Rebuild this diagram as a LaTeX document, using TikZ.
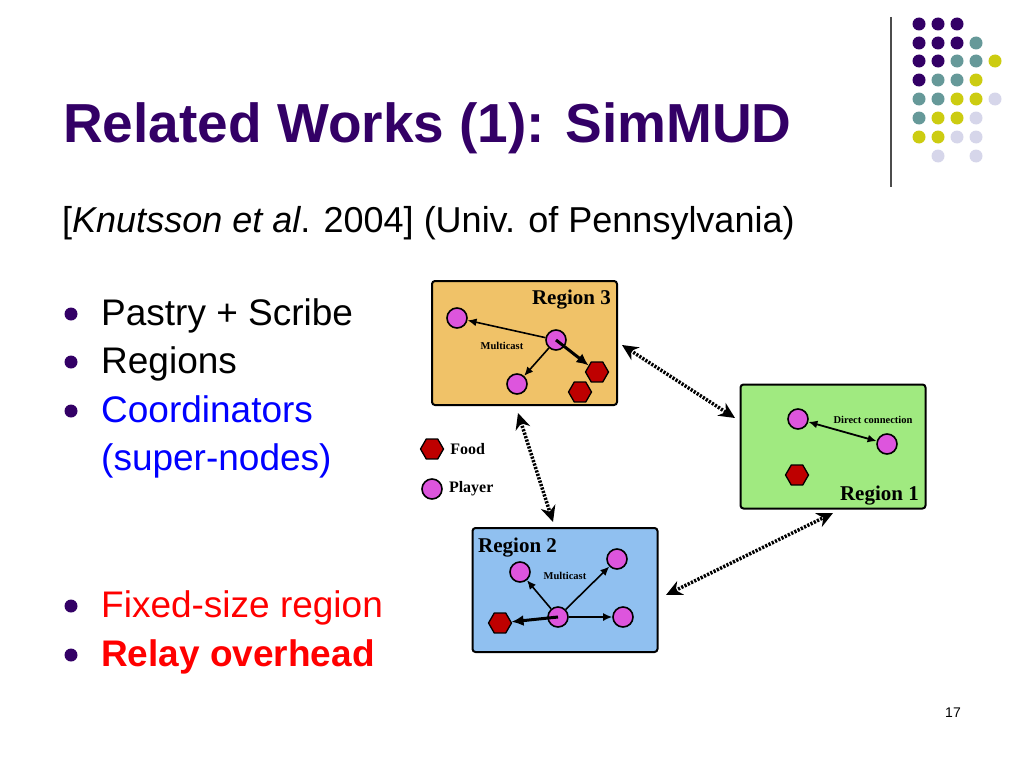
\documentclass[tikz,border=0pt]{standalone}
\usepackage{fontspec}
\setmainfont{Liberation Sans}
\newfontfamily\serifb{Liberation Serif}
\usetikzlibrary{positioning}
\usetikzlibrary{arrows.meta,shapes.geometric}

\definecolor{titlepurple}{RGB}{51,0,102}
\definecolor{dotteal}{RGB}{102,153,153}
\definecolor{dotyellow}{RGB}{204,204,17}
\definecolor{dotlilac}{RGB}{214,214,234}
\definecolor{regionorange}{RGB}{240,194,104}
\definecolor{regiongreen}{RGB}{160,234,128}
\definecolor{regionblue}{RGB}{144,192,240}
\definecolor{playerpink}{RGB}{221,85,221}
\definecolor{foodred}{RGB}{190,0,0}
\definecolor{textblue}{RGB}{0,0,255}
\definecolor{textred}{RGB}{255,0,0}

\begin{document}
\begin{tikzpicture}[x=1pt,y=-1pt,
  txt/.style={anchor=base west,inner sep=0pt},
  bodytext/.style={txt,font=\fontsize{37}{40}\selectfont},
  bulletdot/.style={circle,fill=titlepurple,inner sep=0pt,minimum size=13pt},
  region/.style={draw,line width=2pt,rounded corners=3pt,minimum width=185pt,minimum height=124pt},
  regionlabel/.style={inner sep=0pt,font=\serifb\bfseries\fontsize{21}{21}\selectfont},
  smalllabel/.style={inner sep=0pt,font=\serifb\bfseries\fontsize{10.5}{10.5}\selectfont},
  player/.style={circle,draw,line width=1.6pt,fill=playerpink,minimum size=20pt,inner sep=0pt},
  food/.style={regular polygon,regular polygon sides=6,draw,line width=1.3pt,fill=foodred,minimum size=23pt,inner sep=0pt},
  move/.style={-{Latex[length=9pt,width=8pt]},line width=1.6pt},
  bigmove/.style={-{Latex[length=12pt,width=11pt]},line width=3pt},
  link/.style={line width=3.5pt,dash pattern=on 2.2pt off 1.4pt,{Stealth[length=16pt,width=15pt]}-{Stealth[length=16pt,width=15pt]}}]
 \useasboundingbox (0,0) rectangle (1024,768);

 % corner decoration
 \draw[gray!60!black,line width=1.2pt] (891,17) -- (891,187);
 \fill[titlepurple] (919,24) circle (6.5); \fill[titlepurple] (938,24) circle (6.5); \fill[titlepurple] (957,24) circle (6.5);
 \fill[titlepurple] (919,43) circle (6.5); \fill[titlepurple] (938,43) circle (6.5); \fill[titlepurple] (957,43) circle (6.5); \fill[dotteal] (976,43) circle (6.5);
 \fill[titlepurple] (919,61) circle (6.5); \fill[titlepurple] (938,61) circle (6.5); \fill[dotteal] (957,61) circle (6.5); \fill[dotteal] (976,61) circle (6.5); \fill[dotyellow] (995,61) circle (6.5);
 \fill[titlepurple] (919,80) circle (6.5); \fill[dotteal] (938,80) circle (6.5); \fill[dotteal] (957,80) circle (6.5); \fill[dotyellow] (976,80) circle (6.5);
 \fill[dotteal] (919,99) circle (6.5); \fill[dotteal] (938,99) circle (6.5); \fill[dotyellow] (957,99) circle (6.5); \fill[dotyellow] (976,99) circle (6.5); \fill[dotlilac] (995,99) circle (6.5);
 \fill[dotteal] (919,118) circle (6.5); \fill[dotyellow] (938,118) circle (6.5); \fill[dotyellow] (957,118) circle (6.5); \fill[dotlilac] (976,118) circle (6.5);
 \fill[dotyellow] (919,137) circle (6.5); \fill[dotyellow] (938,137) circle (6.5); \fill[dotlilac] (957,137) circle (6.5); \fill[dotlilac] (976,137) circle (6.5);
 \fill[dotlilac] (938,156) circle (6.5); \fill[dotlilac] (976,156) circle (6.5);

 % title and text
 \node[txt,text=titlepurple,font=\bfseries\fontsize{55}{60}\selectfont] (title) at (63,142) {Related Works (1): SimMUD};
 \node[txt,font=\fontsize{36}{40}\selectfont] (cite) at (62,232) {[\textit{Knutsson et al}. 2004] (Univ. of Pennsylvania)};
 \node[bulletdot] (b1) at (71,314) {};
 \node[bodytext] (t1) at (101,325) {Pastry + Scribe};
 \node[bulletdot] (b2) at (71,362) {};
 \node[bodytext] (t2) at (101,373) {Regions};
 \node[bulletdot] (b3) at (71,411) {};
 \node[bodytext,text=textblue] (t3) at (101,422) {Coordinators};
 \node[bodytext,text=textblue] (t4) at (101,470) {(super-nodes)};
 \node[bulletdot] (b4) at (71,606) {};
 \node[bodytext,text=textred] (t5) at (101,617) {Fixed-size region};
 \node[bulletdot] (b5) at (71,655) {};
 \node[bodytext,text=textred,font=\bfseries\fontsize{37}{40}\selectfont] (t6) at (101,666) {Relay overhead};
 \node[font=\fontsize{14}{14}\selectfont] (pagenum) at (953,713) {17};

 % regions
 \node[region,fill=regionorange] (r3) at (524.5,343) {};
 \node[region,fill=regiongreen] (r1) at (833,446.5) {};
 \node[region,fill=regionblue] (r2) at (565,590) {};
 \node[regionlabel,anchor=base east] (r3lbl) at (611,304) {Region 3};
 \node[regionlabel,anchor=base east] (r1lbl) at (919,500) {Region 1};
 \node[regionlabel,anchor=base west] (r2lbl) at (478,552) {Region 2};

 % region 3
 \node[player] (p31) at (457,318) {};
 \node[player] (p32) at (556,340) {};
 \node[player] (p33) at (517,384) {};
 \node[food] (f31) at (597,372) {};
 \node[food] (f32) at (580,392) {};
 \node[smalllabel] (mc3) at (502,346) {Multicast};
 \draw[move] (p32) -- (p31);
 \draw[move] (p32) -- (p33);
 \draw[bigmove] (p32.center) -- (f31);

 % region 1
 \node[player] (p11) at (798,419) {};
 \node[player] (p12) at (887,444) {};
 \node[food] (f11) at (797,475) {};
 \node[smalllabel] (dc1) at (873,420) {Direct connection};
 \draw[{Latex[length=9pt,width=8pt]}-{Latex[length=9pt,width=8pt]},line width=1.8pt] (p11) -- (p12);

 % region 2
 \node[player] (p21) at (520,572) {};
 \node[player] (p22) at (617,559) {};
 \node[player] (p23) at (558,617) {};
 \node[player] (p24) at (623,617) {};
 \node[food] (f21) at (500,623) {};
 \node[smalllabel] (mc2) at (565,576) {Multicast};
 \draw[move] (p23) -- (p21);
 \draw[move] (p23) -- (p22);
 \draw[move] (p23) -- (p24);
 \draw[bigmove] (p23.center) -- (f21);

 % legend
 \node[food] (legfood) at (432,449) {};
 \node[smalllabel,font=\serifb\bfseries\fontsize{16}{16}\selectfont,right=6pt of legfood] (legfoodlbl) {Food};
 \node[player] (legplayer) at (432,489) {};
 \node[smalllabel,font=\serifb\bfseries\fontsize{16}{16}\selectfont,right=6pt of legplayer] (legplayerlbl) {Player};

 % links between regions
 \coordinate (l31) at (622,345);
 \coordinate (l13) at (735,418);
 \coordinate (l32) at (518,413);
 \coordinate (l23) at (553,522);
 \coordinate (l21) at (666,595);
 \coordinate (l12) at (833,513);
 \draw[link] (l31) -- (l13);
 \draw[link] (l32) -- (l23);
 \draw[link] (l21) -- (l12);
\end{tikzpicture}
\end{document}
